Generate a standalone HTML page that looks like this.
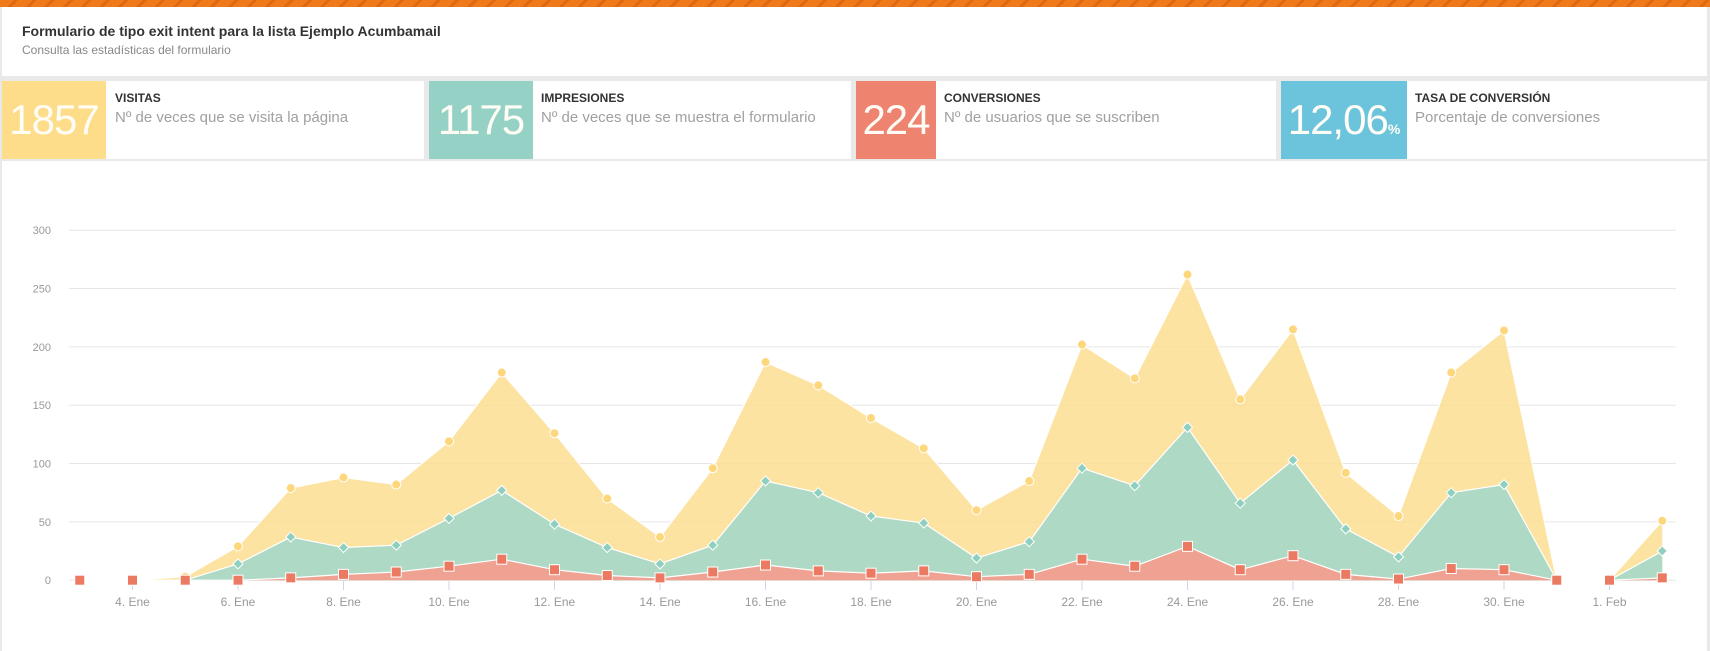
<!DOCTYPE html>
<html><head><meta charset="utf-8">
<style>
*{margin:0;padding:0;box-sizing:border-box}
body{width:1710px;height:651px;background:#e9e9e9;font-family:"Liberation Sans",sans-serif;position:relative;overflow:hidden}
.top{position:absolute;left:0;top:0;width:1710px;height:7px;background:repeating-linear-gradient(135deg,#f07a1a 0 10px,#e06810 10px 13px)}
.hdr{position:absolute;left:2px;top:7px;width:1705px;height:69px;background:#fff}
.hdr h1{position:absolute;left:20px;top:16px;font-size:14px;font-weight:bold;color:#333}
.hdr p{position:absolute;left:20px;top:36px;font-size:12px;color:#888}
.card{position:absolute;top:81px;height:78px;background:#fff}
.box{position:absolute;left:0;top:0;height:78px;color:#fffdf6;font-size:42px;font-weight:300;line-height:78px;text-align:center;letter-spacing:-1px}
.box small{font-size:14px;font-weight:bold;letter-spacing:0}
.lbl{position:absolute;top:10px;font-size:12px;font-weight:bold;color:#333}
.desc{position:absolute;top:28px;font-size:15px;color:#a0a0a0;white-space:nowrap}
.chart{position:absolute;left:2px;top:161px;width:1705px;height:490px;background:#fff}
svg{position:absolute;left:0;top:0}
</style></head><body>
<div class="top"></div>
<div class="hdr"><h1>Formulario de tipo exit intent para la lista Ejemplo Acumbamail</h1><p>Consulta las estadísticas del formulario</p></div>
<div class="card" style="left:2px;width:422px"><div class="box" style="width:104px;background:#fddd8a">1857</div><div class="lbl" style="left:113px">VISITAS</div><div class="desc" style="left:113px">Nº de veces que se visita la página</div></div>
<div class="card" style="left:429px;width:422px"><div class="box" style="width:104px;background:#95d1c4">1175</div><div class="lbl" style="left:112px">IMPRESIONES</div><div class="desc" style="left:112px">Nº de veces que se muestra el formulario</div></div>
<div class="card" style="left:856px;width:420px"><div class="box" style="width:80px;background:#ee8470">224</div><div class="lbl" style="left:88px">CONVERSIONES</div><div class="desc" style="left:88px">Nº de usuarios que se suscriben</div></div>
<div class="card" style="left:1281px;width:426px"><div class="box" style="width:126px;background:#6cc4dc">12,06<small>%</small></div><div class="lbl" style="left:134px">TASA DE CONVERSIÓN</div><div class="desc" style="left:134px">Porcentaje de conversiones</div></div>
<div class="chart"></div>
<svg id="c" width="1710" height="651" xmlns="http://www.w3.org/2000/svg" font-family="Liberation Sans, sans-serif"></svg>
<script>
var V=[0,0,3,29,79,88,82,119,178,126,70,37,96,187,167,139,113,60,85,202,173,262,155,215,92,55,178,214,0,0,51];
var I=[0,0,0,14,37,28,30,53,77,48,28,14,30,85,75,55,49,19,33,96,81,131,66,103,44,20,75,82,0,0,25];
var C=[0,0,0,0,2,5,7,12,18,9,4,2,7,13,8,6,8,3,5,18,12,29,9,21,5,1,10,9,0,0,2];
function X(i){return 79.75+i*52.75}function Y(v){return 580.2-v*1.1667}
var s='';
for(var k=0;k<=6;k++){var y=Y(k*50);s+='<line x1="69" x2="1676" y1="'+y+'" y2="'+y+'" stroke="#e6e6e6"/>';
s+='<text x="51" y="'+(y+4)+'" text-anchor="end" font-size="11" fill="#999">'+(k*50)+'</text>';}
var labs=['4. Ene','6. Ene','8. Ene','10. Ene','12. Ene','14. Ene','16. Ene','18. Ene','20. Ene','22. Ene','24. Ene','26. Ene','28. Ene','30. Ene','1. Feb'];
for(var j=0;j<labs.length;j++){var x=X(1+2*j);s+='<line x1="'+x+'" x2="'+x+'" y1="581" y2="590" stroke="#ccd6eb"/>';
s+='<text x="'+x+'" y="606" text-anchor="middle" font-size="12" fill="#999">'+labs[j]+'</text>';}
function area(d,fill){var p=[];for(var i=0;i<d.length;i++)p.push(X(i)+','+Y(d[i]));
return '<polygon points="'+X(0)+','+Y(0)+' '+p.join(' ')+' '+X(d.length-1)+','+Y(0)+'" fill="'+fill+'"/><polyline points="'+p.join(' ')+'" fill="none" stroke="#fff" stroke-width="1.2"/>';}
s+=area(V,'rgba(253,222,145,0.85)');s+=area(I,'rgba(160,215,203,0.85)');s+=area(C,'#f0a292');
for(var i=2;i<V.length;i++){if(i==28||i==29)continue;s+='<circle cx="'+X(i)+'" cy="'+Y(V[i])+'" r="4.5" fill="#fdd77c" stroke="#fff" stroke-width="1"/>';}
for(var i=3;i<I.length;i++){if(i==28||i==29)continue;var x=X(i),y=Y(I[i]);s+='<polygon points="'+x+','+(y-5)+' '+(x+5)+','+y+' '+x+','+(y+5)+' '+(x-5)+','+y+'" fill="#8fcfc0" stroke="#fff" stroke-width="1"/>';}
for(var i=0;i<C.length;i++){var x=X(i),y=Y(C[i]);s+='<rect x="'+(x-5)+'" y="'+(y-5)+'" width="10" height="10" fill="#ec7a62" stroke="#fff" stroke-width="1"/>';}
document.getElementById('c').innerHTML=s;
</script>
</body></html>
